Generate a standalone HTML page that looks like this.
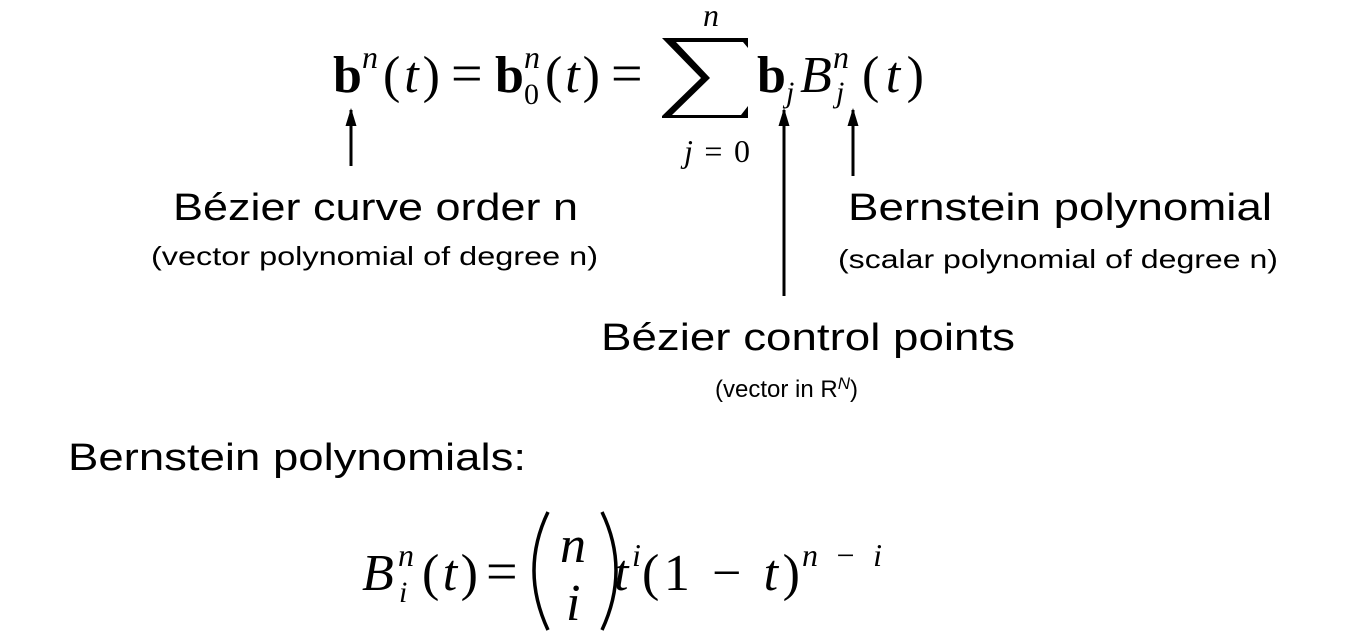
<!DOCTYPE html>
<html><head><meta charset="utf-8"><style>
html,body{margin:0;padding:0;background:#fff;width:1356px;height:632px;overflow:hidden}
svg text{fill:#000}
.m{font-family:"Liberation Serif",serif}
.s{font-family:"Liberation Sans",sans-serif}
</style></head><body>
<svg width="1356" height="632" viewBox="0 0 1356 632" xmlns="http://www.w3.org/2000/svg">
<defs><marker id="a" markerWidth="18" markerHeight="12" refX="16" refY="5.5" orient="auto" markerUnits="userSpaceOnUse"><path d="M0,0 L18,5.5 L0,11 Z" fill="#000"/></marker></defs>
<!-- top equation -->
<g class="m" font-size="52">
<text x="333" y="92" font-weight="bold">b</text>
<text x="362" y="68" font-size="32" font-style="italic">n</text>
<text x="383" y="92" textLength="57" lengthAdjust="spacing">(<tspan font-style="italic">t</tspan>)</text>
<text x="451" y="92" font-size="56">=</text>
<text x="495" y="92" font-weight="bold">b</text>
<text x="524" y="68" font-size="32" font-style="italic">n</text>
<text x="524" y="104" font-size="30">0</text>
<text x="545" y="92" textLength="55" lengthAdjust="spacing">(<tspan font-style="italic">t</tspan>)</text>
<text x="611" y="92" font-size="56">=</text>
<path d="M748,38 L748,48 L743,42 L676,42 L710,78 L672,115 L741,115 L748,106 L748,118 L662,118 L662,116 L701,78 L662,38 Z" fill="#000"/>
<text x="703" y="26" font-size="32" font-style="italic">n</text>
<text x="684" y="162" font-size="32" textLength="66" lengthAdjust="spacing"><tspan font-style="italic">j</tspan>=0</text>
<text x="757" y="92" font-weight="bold">b</text>
<text x="786" y="102" font-size="30" font-style="italic">j</text>
<text x="800" y="92" font-style="italic">B</text>
<text x="833" y="68" font-size="32" font-style="italic">n</text>
<text x="836" y="102" font-size="30" font-style="italic">j</text>
<text x="862" y="92" textLength="62" lengthAdjust="spacing">(<tspan font-style="italic">t</tspan>)</text>
</g>
<!-- arrows -->
<g stroke="#000" stroke-width="3">
<line x1="351" y1="166" x2="351" y2="110" marker-end="url(#a)"/>
<line x1="784" y1="296" x2="784" y2="110" marker-end="url(#a)"/>
<line x1="853" y1="176" x2="853" y2="110" marker-end="url(#a)"/>
</g>
<!-- labels -->
<g class="s">
<text x="173" y="220" font-size="38" textLength="405" lengthAdjust="spacingAndGlyphs">Bézier curve order n</text>
<text x="151" y="265" font-size="26" textLength="447" lengthAdjust="spacingAndGlyphs">(vector polynomial of degree n)</text>
<text x="848" y="220" font-size="38" textLength="424" lengthAdjust="spacingAndGlyphs">Bernstein polynomial</text>
<text x="838" y="268" font-size="26" textLength="440" lengthAdjust="spacingAndGlyphs">(scalar polynomial of degree n)</text>
<text x="601" y="350" font-size="38" textLength="414" lengthAdjust="spacingAndGlyphs">Bézier control points</text>
<text x="715" y="397" font-size="24">(vector in R<tspan dy="-8" font-size="17" font-style="italic">N</tspan><tspan dy="8">)</tspan></text>
<text x="68" y="470" font-size="38" textLength="458" lengthAdjust="spacingAndGlyphs">Bernstein polynomials:</text>
</g>
<!-- bottom equation -->
<g class="m" font-size="52">
<text x="362" y="590" font-style="italic">B</text>
<text x="398" y="566" font-size="32" font-style="italic">n</text>
<text x="399" y="602" font-size="30" font-style="italic">i</text>
<text x="422" y="590" textLength="56" lengthAdjust="spacing">(<tspan font-style="italic">t</tspan>)</text>
<text x="486" y="590" font-size="56">=</text>
<path d="M548,512 Q520,570 548,630" fill="none" stroke="#000" stroke-width="3.5"/>
<path d="M602,512 Q630,570 602,630" fill="none" stroke="#000" stroke-width="3.5"/>
<text x="560" y="562" font-style="italic">n</text>
<text x="566" y="620" font-style="italic">i</text>
<text x="614" y="590" font-style="italic">t</text>
<text x="632" y="566" font-size="32" font-style="italic">i</text>
<text x="642" y="590" textLength="158" lengthAdjust="spacing">(1 − <tspan font-style="italic">t</tspan>)</text>
<text x="802" y="566" font-size="32" textLength="80" lengthAdjust="spacing"><tspan font-style="italic">n</tspan>−<tspan font-style="italic">i</tspan></text>
</g>
</svg>
</body></html>
